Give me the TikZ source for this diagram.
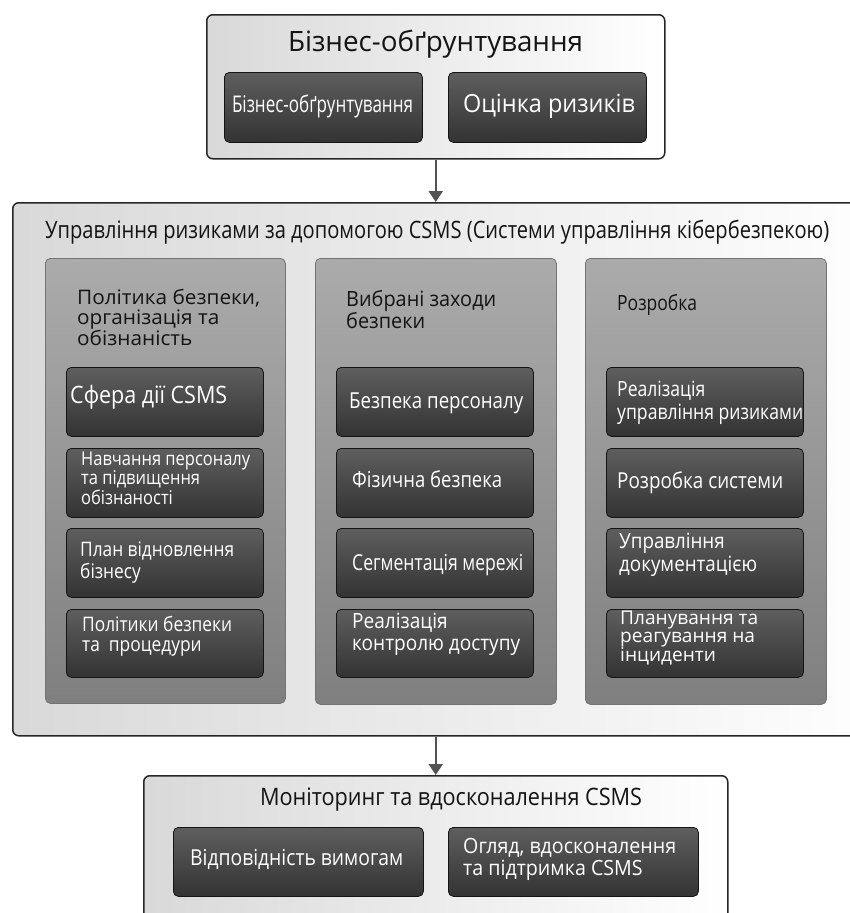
\documentclass[tikz,border=0pt]{standalone}
\usepackage{fontspec}
\setmainfont{Open Sans}
\usetikzlibrary{arrows.meta}
\newsavebox\fitbox
\newcommand\fitx[2]{\sbox\fitbox{#2}\pgfmathsetmacro\fitr{#1/\the\wd\fitbox}\scalebox{\fitr}[1]{\usebox\fitbox}}
% font size, baselineskip, target width, lines
\newcommand\ft[4]{\fitx{#3}{\fontsize{#1}{#2}\selectfont\begin{tabular}{@{}l@{}}#4\end{tabular}}}
\tikzset{
  outer/.style={draw=black!85, line width=1.5pt, rounded corners=6pt, left color=black!15, right color=white, anchor=north west, inner sep=0pt},
  colbox/.style={draw=black!55, line width=0.8pt, rounded corners=5pt, top color=black!33, bottom color=black!50, anchor=north west, inner sep=0pt},
  dark/.style={draw=black!92, line width=0.8pt, rounded corners=5pt, top color=black!63, bottom color=black!80, anchor=north west, inner sep=0pt},
  wtxt/.style={inner sep=0pt, anchor=west, text=white},
  btxt/.style={inner sep=0pt, anchor=west, text=black!92},
  arr/.style={draw=black!68, line width=2pt, -{Triangle[width=14pt,length=11pt]}}
}
\begin{document}
\begin{tikzpicture}[x=1pt,y=-1pt]
\useasboundingbox (0,0) rectangle (850,913);
\clip (0,0) rectangle (850,913);
\fill[white] (0,0) rectangle (850,913);

% ---------- top block ----------
\node[outer, minimum width=458pt, minimum height=144pt] (top) at (206,14) {};
\node[btxt, anchor=center] (toptitle) at (435.5,45) {\ft{28}{32}{295}{Бізнес-обґрунтування}};
\node[dark, minimum width=198pt, minimum height=70pt] (bc) at (224,72) {};
\node[dark, minimum width=198pt, minimum height=70pt] (ri) at (448,72) {};
\node[wtxt, anchor=center] (bct) at (322.5,107) {\ft{23}{26}{181}{Бізнес-обґрунтування}};
\node[wtxt, anchor=center] (rit) at (549,107) {\ft{25}{28}{172}{Оцінка ризиків}};

% ---------- middle block ----------
\node[outer, minimum width=880pt, minimum height=533pt] (mid) at (12,202) {};
\node[btxt] (midtitle) at (45,233) {\ft{24}{27}{784}{Управління ризиками за допомогою CSMS (Системи управління кібербезпекою)}};

\node[colbox, minimum width=240pt, minimum height=445pt] (c1) at (45,258) {};
\node[colbox, minimum width=241pt, minimum height=446pt] (c2) at (315,258) {};
\node[colbox, minimum width=241pt, minimum height=446pt] (c3) at (585,258) {};

\node[btxt] (c1t) at (77,320) {\ft{20}{17.5}{183}{Політика безпеки,\\організація та\\обізнаність}};
\node[btxt] (c2t) at (346,312.5) {\ft{21}{18.5}{150}{Вибрані заходи\\безпеки}};
\node[btxt] (c3t) at (617,305) {\ft{21}{18}{80}{Розробка}};

% column 1
\node[dark, minimum width=197pt, minimum height=69pt] (a1) at (66,367) {};
\node[dark, minimum width=197pt, minimum height=69pt] (a2) at (66,448) {};
\node[dark, minimum width=197pt, minimum height=69pt] (a3) at (66,528) {};
\node[dark, minimum width=197pt, minimum height=68pt] (a4) at (66,609) {};
\node[wtxt] (a1t) at (70,398) {\ft{24}{26}{157}{Сфера дії CSMS}};
\node[wtxt] (a2t) at (81,481) {\ft{19}{17.2}{169}{Навчання персоналу\\та підвищення\\обізнаності}};
\node[wtxt] (a3t) at (80,563) {\ft{20}{19.5}{154}{План відновлення\\бізнесу}};
\node[wtxt] (a4t) at (82,637) {\ft{20}{19.5}{150}{Політики безпеки\\та\ \ процедури}};

% column 2
\node[dark, minimum width=197pt, minimum height=69pt] (b1) at (336,367) {};
\node[dark, minimum width=197pt, minimum height=69pt] (b2) at (336,448) {};
\node[dark, minimum width=197pt, minimum height=69pt] (b3) at (336,528) {};
\node[dark, minimum width=197pt, minimum height=68pt] (b4) at (336,609) {};
\node[wtxt] (b1t) at (349,403) {\ft{22}{26}{174}{Безпека персоналу}};
\node[wtxt] (b2t) at (352,482) {\ft{22}{26}{150}{Фізична безпека}};
\node[wtxt] (b3t) at (352,565) {\ft{22}{26}{171}{Сегментація мережі}};
\node[wtxt] (b4t) at (352,635) {\ft{21}{21.7}{168}{Реалізація\\контролю доступу}};

% column 3
\node[dark, minimum width=197pt, minimum height=69pt] (d1) at (606,367) {};
\node[dark, minimum width=197pt, minimum height=69pt] (d2) at (606,448) {};
\node[dark, minimum width=197pt, minimum height=69pt] (d3) at (606,528) {};
\node[dark, minimum width=197pt, minimum height=68pt] (d4) at (606,609) {};
\node[wtxt] (d1t) at (617,403) {\ft{21}{23}{186}{Реалізація\\управління ризиками}};
\node[wtxt] (d2t) at (617,483) {\ft{22}{26}{166}{Розробка системи}};
\node[wtxt] (d3t) at (619,555) {\ft{21}{23}{138}{Управління\\документацією}};
\node[wtxt] (d4t) at (620,639) {\ft{19}{17.5}{138}{Планування та\\реагування на\\інциденти}};

% ---------- bottom block ----------
\node[outer, minimum width=584pt, minimum height=180pt] (bot) at (143,775) {};
\node[btxt, anchor=center] (bottitle) at (451,800) {\ft{24}{27}{382}{Моніторинг та вдосконалення CSMS}};
\node[dark, minimum width=250pt, minimum height=69pt] (e1) at (173,827) {};
\node[dark, minimum width=250pt, minimum height=69pt] (e2) at (448,827) {};
\node[wtxt] (e1t) at (190,860) {\ft{22}{26}{213}{Відповідність вимогам}};
\node[wtxt] (e2t) at (463,860) {\ft{21}{22}{213}{Огляд, вдосконалення\\та підтримка CSMS}};

% ---------- arrows ----------
\draw[arr] (top.south) -- (top.south |- mid.north);
\draw[arr] (bot.north |- mid.south) -- (bot.north);
\end{tikzpicture}
\end{document}
